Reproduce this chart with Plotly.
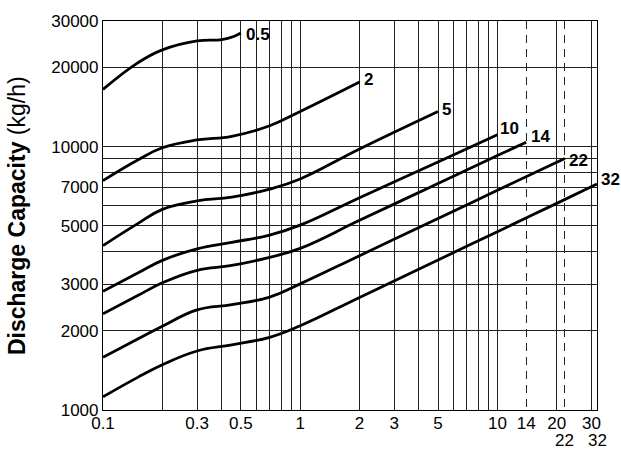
import math
import plotly.graph_objects as go

# ---------------- data ----------------
CURVE_LABELS = ["0.5", "2", "5", "10", "14", "22", "32"]

X_05 = [0.1, 0.15, 0.2, 0.3, 0.4, 0.46, 0.5]
Y_05 = [16500, 20800, 23300, 25200, 25500, 26200, 27000]

X_2 = [0.1, 0.15, 0.2, 0.3, 0.45, 0.7, 1, 2]
Y_2 = [7430, 8900, 9900, 10600, 10950, 12000, 13600, 17600]

X_5 = [0.1, 0.15, 0.2, 0.3, 0.45, 0.7, 1, 2, 5]
Y_5 = [4210, 5100, 5780, 6220, 6430, 6900, 7540, 9800, 13600]

X_10 = [0.1, 0.15, 0.2, 0.3, 0.45, 0.7, 1, 2, 5, 10]
Y_10 = [2825, 3310, 3700, 4090, 4330, 4615, 5035, 6400, 8750, 11100]

X_14 = [0.1, 0.15, 0.2, 0.3, 0.45, 0.7, 1, 2, 5, 10, 14]
Y_14 = [2320, 2720, 3040, 3390, 3540, 3800, 4110, 5250, 7250, 9250, 10400]

X_22 = [0.1, 0.15, 0.2, 0.3, 0.45, 0.7, 1, 2, 5, 10, 20, 22]
Y_22 = [1586, 1860, 2080, 2400, 2512, 2685, 3013, 3855, 5335, 6825, 8730, 9020]

X_32 = [0.1, 0.15, 0.2, 0.3, 0.45, 0.7, 1, 2, 5, 10, 20, 32]
Y_32 = [1122, 1330, 1485, 1675, 1768, 1888, 2089, 2676, 3712, 4753, 6090, 7210]

CURVES_X = [X_05, X_2, X_5, X_10, X_14, X_22, X_32]
CURVES_Y = [Y_05, Y_2, Y_5, Y_10, Y_14, Y_22, Y_32]

# label offsets (px) from curve end
LABEL_SHIFT = [(3, -1), (2, 2), (2, 2), (1, 6), (3, 6), (2, -2), (2, 5)]

GRID_X = [0.1, 0.2, 0.3, 0.4, 0.5, 0.6, 0.7, 0.8, 0.9, 1, 2, 3, 4, 5, 6, 7, 8, 9, 10, 20, 30]
LABEL_X = {0.1: "0.1", 0.3: "0.3", 0.5: "0.5", 1: "1", 2: "2", 3: "3", 5: "5",
           10: "10", 20: "20", 30: "30"}
DASHED_X = [14, 22]
DASHED_LABEL = {14: "14"}
LOWER_ROW_X = [22, 32]
LOWER_ROW_TEXT = ["22", "32"]

GRID_Y = [1000, 2000, 3000, 4000, 5000, 6000, 7000, 8000, 9000, 10000, 20000, 30000]
LABEL_Y = {1000: "1000", 2000: "2000", 3000: "3000", 5000: "5000", 7000: "7000",
           10000: "10000", 20000: "20000", 30000: "30000"}

X_MIN, X_MAX = 0.1, 32
Y_MIN, Y_MAX = 1000, 30000

FONT = "Liberation Sans, Arial, Helvetica, sans-serif"

# ---------------- figure ----------------
fig = go.Figure()

for xs, ys in zip(CURVES_X, CURVES_Y):
    fig.add_trace(go.Scatter(x=xs, y=ys, mode="lines",
                             line=dict(color="black", width=2.8, shape="spline", smoothing=1.2),
                             showlegend=False, hoverinfo="skip"))

# invisible trace to carry the dashed-grid axis
fig.add_trace(go.Scatter(x=DASHED_X, y=[Y_MIN] * len(DASHED_X), xaxis="x2", mode="markers",
                         marker=dict(opacity=0), showlegend=False, hoverinfo="skip"))

annotations = []
for lab, xs, ys, (dx, dy) in zip(CURVE_LABELS, CURVES_X, CURVES_Y, LABEL_SHIFT):
    annotations.append(dict(x=math.log10(xs[-1]), y=math.log10(ys[-1]), xref="x", yref="y",
                            text="<b>%s</b>" % lab, showarrow=False, xanchor="left",
                            yanchor="middle", xshift=dx, yshift=dy,
                            font=dict(family=FONT, size=17, color="black")))

for xv, tx in zip(LOWER_ROW_X, LOWER_ROW_TEXT):
    annotations.append(dict(x=math.log10(xv), y=-0.079, xref="x", yref="paper", text=tx,
                            showarrow=False, xanchor="center", yanchor="middle",
                            font=dict(family=FONT, size=17, color="black")))

annotations.append(dict(x=-0.175, y=0.5, xref="paper", yref="paper",
                        text="<b>Discharge Capacity</b> (kg/h)", textangle=-90,
                        showarrow=False, xanchor="center", yanchor="middle",
                        font=dict(family=FONT, size=23, color="black")))

common_x = dict(type="log", range=[math.log10(X_MIN), math.log10(X_MAX)],
                tickangle=0, ticks="", ticklen=0, ticklabelstandoff=-3, showgrid=True,
                gridcolor="#222", gridwidth=1, showline=True, linecolor="black",
                linewidth=1.2, zeroline=False, tickfont=dict(size=17))

fig.update_layout(
    width=621, height=451,
    margin=dict(l=103, r=24, t=17, b=41),
    paper_bgcolor="white", plot_bgcolor="white",
    font=dict(family=FONT, size=17, color="black"),
    xaxis=dict(common_x, tickvals=GRID_X, ticktext=[LABEL_X.get(v, "") for v in GRID_X],
               mirror=True),
    xaxis2=dict(common_x, overlaying="x", side="bottom", tickvals=DASHED_X,
                ticktext=[DASHED_LABEL.get(v, "") for v in DASHED_X],
                griddash="8px,6px"),
    yaxis=dict(type="log", range=[math.log10(Y_MIN), math.log10(Y_MAX)],
               tickvals=GRID_Y, ticktext=[LABEL_Y.get(v, "") for v in GRID_Y],
               ticks="", ticklen=0, showgrid=True, gridcolor="#222", gridwidth=1,
               showline=True, linecolor="black", linewidth=1.2, mirror=True,
               zeroline=False, tickfont=dict(size=17)),
    annotations=annotations,
)

fig.write_html("out.html")
